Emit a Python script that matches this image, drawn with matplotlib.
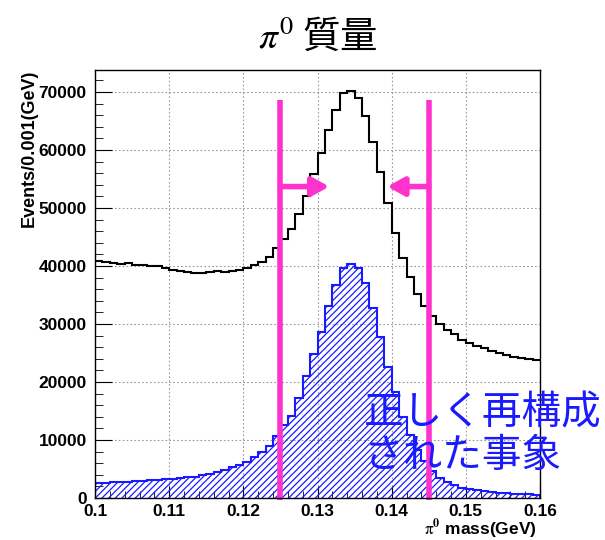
import numpy as np
import matplotlib.pyplot as plt
from matplotlib.ticker import MultipleLocator

plt.rcParams['mathtext.fontset'] = 'stix'
plt.rcParams['hatch.linewidth'] = 0.9

# pi0 candidate mass, 60 bins of 1 MeV from 0.100 to 0.160 GeV
edges = np.linspace(0.100, 0.160, 61)

all_events = [40900, 40700, 40450, 40350, 40450, 40150, 40100, 40000, 40050, 39600,
              39400, 39200, 38900, 38850, 38850, 39000, 39200, 38900, 39200, 39300,
              39700, 40200, 40750, 41600, 43050, 44650, 46350, 48950, 52150, 55850,
              59500, 63450, 66900, 69750, 70200, 69050, 65900, 61400, 56250, 50800,
              45750, 41350, 38150, 35200, 33100, 31350, 30050, 29050, 28200, 27200,
              26650, 26200, 25800, 25400, 25050, 24650, 24350, 24100, 23900, 23800]

true_events = [2550, 2650, 2700, 2750, 2800, 2850, 2950, 3050, 3100, 3200,
               3300, 3450, 3550, 3700, 3900, 4150, 4550, 4850, 5300, 5700,
               6250, 7000, 8000, 9000, 10700, 12600, 14200, 17300, 21000, 24800,
               28600, 33150, 36700, 39700, 40350, 39600, 37000, 32800, 27800, 22650,
               18250, 14050, 10850, 8300, 6300, 4600, 3500, 2700, 2200, 1800,
               1500, 1300, 1150, 1000, 900, 800, 750, 700, 650, 600]

x_ticks = [0.10, 0.11, 0.12, 0.13, 0.14, 0.15, 0.16]
x_tick_labels = ['0.1', '0.11', '0.12', '0.13', '0.14', '0.15', '0.16']

cut_low, cut_high = 0.125, 0.145
arrow_y = 53700

pink = '#ff33cc'
blue = '#1a1aff'

fig = plt.figure(figsize=(6.05, 5.4), dpi=100)
ax = fig.add_axes([95 / 605, 42 / 540, 445 / 605, 428 / 540])

ax.grid(True, color='#999999', linestyle=(0, (1.5, 2)), linewidth=0.8)
ax.set_axisbelow(True)

# black: all candidates, blue hatched: correctly reconstructed
ax.stairs(all_events, edges, color='black', linewidth=1.5, baseline=None)
ax.stairs(true_events, edges, fill=True, facecolor='none', edgecolor=blue,
          hatch='/////', linewidth=0)
ax.stairs(true_events, edges, color=blue, linewidth=1.5)

# mass window cut
for xc in (cut_low, cut_high):
    ax.plot([xc, xc], [-400, 68600], color=pink, linewidth=4, clip_on=False,
            solid_capstyle='butt')
ax.annotate('', xy=(0.1316, arrow_y), xytext=(cut_low, arrow_y),
            arrowprops=dict(arrowstyle='-|>,head_length=1.0,head_width=0.55',
                            color=pink, linewidth=4, shrinkA=0, shrinkB=0))
ax.annotate('', xy=(0.1394, arrow_y), xytext=(cut_high, arrow_y),
            arrowprops=dict(arrowstyle='-|>,head_length=1.0,head_width=0.55',
                            color=pink, linewidth=4, shrinkA=0, shrinkB=0))

ax.set_xticks(x_ticks, x_tick_labels)
ax.xaxis.set_minor_locator(MultipleLocator(0.002))
ax.yaxis.set_major_locator(MultipleLocator(10000))
ax.yaxis.set_minor_locator(MultipleLocator(2000))
ax.set_xlim(0.1, 0.16)
ax.set_ylim(0, 73800)
ax.tick_params(axis='both', which='both', direction='in', top=False, right=False)
ax.tick_params(axis='y', which='major', length=12, pad=6)
ax.tick_params(axis='y', which='minor', length=6)
ax.tick_params(axis='x', which='major', length=9, pad=4)
ax.tick_params(axis='x', which='minor', length=5)
for lab in ax.get_xticklabels() + ax.get_yticklabels():
    lab.set_family('Liberation Sans')
    lab.set_fontweight('bold')
    lab.set_fontsize(12.5)
for sp in ax.spines.values():
    sp.set_linewidth(1.0)

ax.set_ylabel('Events/0.001(GeV)', family='Liberation Sans', fontweight='bold',
              fontsize=13, loc='top')
ax.yaxis.set_label_coords(-0.128, 1.0)
fig.text(537 / 605, 1 - 535 / 540, r'$\mathrm{\pi}^{\mathbf{0}}$ mass(GeV)',
         family='Liberation Sans', fontweight='bold', fontsize=12.5,
         ha='right', va='baseline')

fig.text(0.525, 0.93, r'$\pi^{0}$ 質量', family=['Noto Sans CJK JP', 'DejaVu Sans'],
         fontsize=27, ha='center', va='center')

fig.text(364 / 605, 1 - 393 / 540, '正しく再構成\nされた事象',
         family=['Noto Sans CJK JP', 'DejaVu Sans'], fontsize=28.5, color=blue,
         ha='left', va='top', linespacing=1.1)

fig.savefig('out.png', dpi=100)
